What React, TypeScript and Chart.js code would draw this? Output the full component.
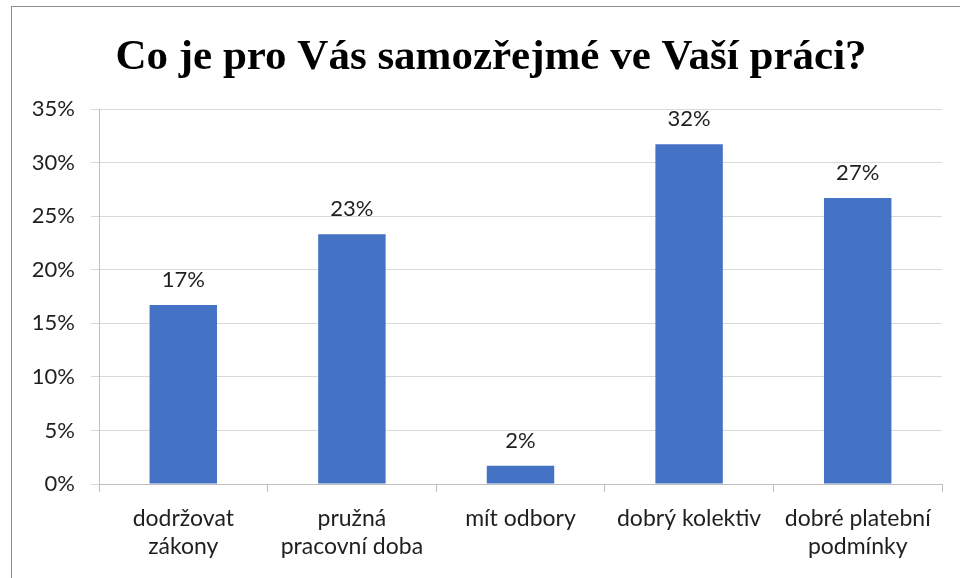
import React, { useEffect, useRef } from "react";
import { Chart, registerables } from "chart.js";

Chart.register(...registerables);

const titleText = "Co je pro Vás samozřejmé ve Vaší práci?";
const categories: string[][] = [
  ["dodržovat", "zákony"],
  ["pružná", "pracovní doba"],
  ["mít odbory"],
  ["dobrý kolektiv"],
  ["dobré platební", "podmínky"],
];
const values = [16.7, 23.3, 1.7, 31.7, 26.7];
const valueLabels = ["17%", "23%", "2%", "32%", "27%"];
const yTicks = [0, 5, 10, 15, 20, 25, 30, 35];

const LABEL_FONT = "Lato, 'Open Sans', sans-serif";
const TITLE_FONT = "bold 43px 'Liberation Serif', 'Times New Roman', serif";

const dataLabelPlugin = {
  id: "dataLabels",
  afterDatasetsDraw(chart: any) {
    const ctx = chart.ctx;
    const meta = chart.getDatasetMeta(0);
    ctx.save();
    ctx.font = `22px ${LABEL_FONT}`;
    ctx.fillStyle = "#1f1f1f";
    ctx.textAlign = "center";
    ctx.textBaseline = "middle";
    meta.data.forEach((bar: any, i: number) => {
      ctx.fillText(valueLabels[i], bar.x, bar.y - 25);
    });
    ctx.restore();
  },
};

const titlePlugin = {
  id: "customTitle",
  afterDraw(chart: any) {
    const ctx = chart.ctx;
    ctx.save();
    ctx.font = TITLE_FONT;
    ctx.fillStyle = "#000";
    ctx.textAlign = "center";
    ctx.textBaseline = "middle";
    ctx.fillText(titleText, 479, 51);
    ctx.restore();
  },
};

export default function App() {
  const ref = useRef<HTMLCanvasElement>(null);
  useEffect(() => {
    if (!ref.current) return;
    const chart = new Chart(ref.current, {
      type: "bar",
      data: {
        labels: categories,
        datasets: [
          {
            data: values,
            backgroundColor: "#4472C4",
            barPercentage: 0.4,
            categoryPercentage: 1,
          },
        ],
      },
      options: {
        animation: false,
        responsive: false,
        maintainAspectRatio: false,
        layout: { padding: { left: 0, right: 18, top: 102, bottom: 0 } },
        plugins: {
          legend: { display: false },
          tooltip: { enabled: false },
          title: { display: false },
        },
        scales: {
          x: {
            grid: {
              display: true,
              drawOnChartArea: false,
              drawTicks: true,
              tickLength: 8,
              offset: true,
              color: "#bfbfbf",
            },
            border: { display: true, color: "#bfbfbf" },
            ticks: {
              color: "#1f1f1f",
              font: { family: LABEL_FONT, size: 23, lineHeight: 1.2 },
              maxRotation: 0,
              autoSkip: false,
              padding: 13,
            },
            afterFit(scale: any) {
              scale.height = 94;
            },
          },
          y: {
            min: 0,
            max: 35,
            afterBuildTicks(scale: any) {
              scale.ticks = yTicks.map((v) => ({ value: v }));
            },
            grid: {
              color: "#d9d9d9",
              tickLength: 8,
              drawTicks: true,
            },
            border: { display: true, color: "#bfbfbf" },
            ticks: {
              color: "#1f1f1f",
              font: { family: LABEL_FONT, size: 22 },
              padding: 16,
              callback: (v: any) => `${v}%`,
            },
            afterFit(scale: any) {
              scale.width = 87;
            },
          },
        },
      },
      plugins: [dataLabelPlugin, titlePlugin],
    });
    return () => chart.destroy();
  }, []);

  return (
    <div
      style={{
        position: "fixed",
        left: 11,
        top: 6,
        width: 980,
        height: 580,
        borderLeft: "1px solid #8c8c8c",
        borderTop: "1px solid #8c8c8c",
        background: "#fff",
      }}
    >
      <canvas ref={ref} width={948} height={571} style={{ display: "block" }} />
    </div>
  );
}
